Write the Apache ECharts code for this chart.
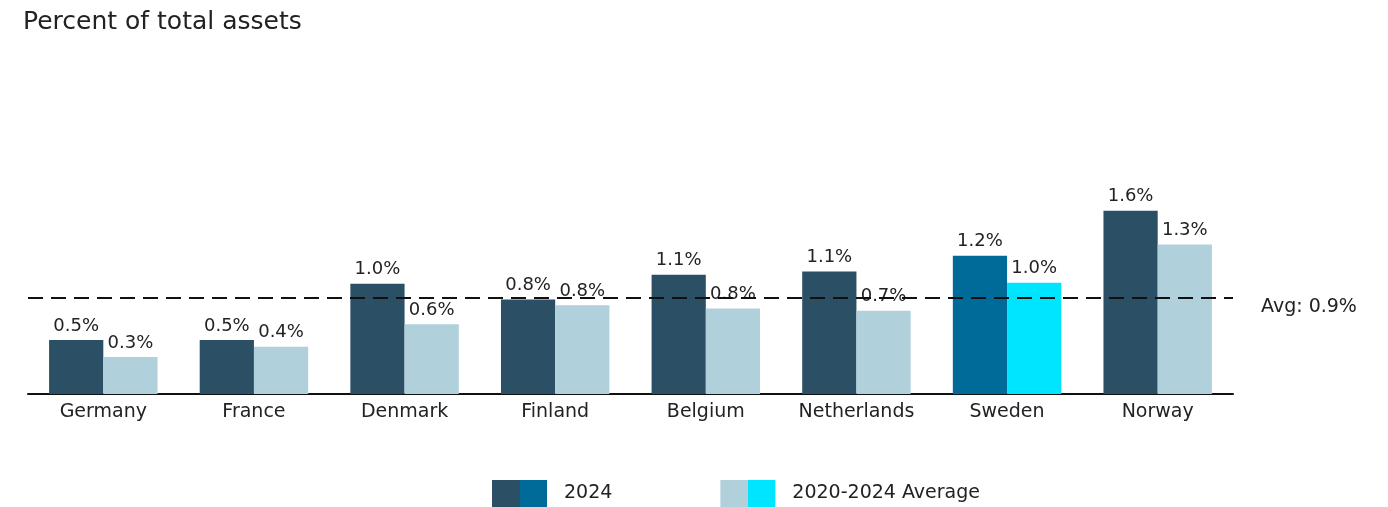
<!DOCTYPE html>
<html>
<head>
<meta charset="utf-8">
<script src="https://cdn.jsdelivr.net/npm/echarts@6/dist/echarts.min.js"></script>
<style>html,body{margin:0;padding:0;background:#fff;}#c{width:1388px;height:507px;}</style>
</head>
<body>
<div id="c"></div>
<script>
var categories = ['Germany','France','Denmark','Finland','Belgium','Netherlands','Sweden','Norway'];
var values2024 = [0.48, 0.48, 0.98, 0.84, 1.06, 1.09, 1.23, 1.63];
var valuesAvg = [0.33, 0.42, 0.62, 0.79, 0.76, 0.74, 0.99, 1.33];
var overallAvg = 0.86;
var seriesNames = ['2024', '2020-2024 Average'];
var highlightCategory = 'Sweden';

var FONT = '"DejaVu Sans", sans-serif';
var C2024 = '#2B4F65', C2024H = '#006B99';
var CAVG = '#B0D0DB', CAVGH = '#00E5FF';

function split(c1, c2) {
  return new echarts.graphic.LinearGradient(0, 0, 1, 0, [
    {offset: 0, color: c1}, {offset: 0.5, color: c1},
    {offset: 0.5, color: c2}, {offset: 1, color: c2}
  ]);
}
function fmt(p) { return (Math.round(p.value * 10) / 10).toFixed(1) + '%'; }

var chart = echarts.init(document.getElementById('c'));
chart.setOption({
  animation: false,
  textStyle: {fontFamily: FONT},
  title: {
    text: 'Percent of total assets',
    left: 18, top: 5,
    textStyle: {fontFamily: FONT, fontSize: 25, fontWeight: 'normal', color: '#222'}
  },
  legend: {
    top: 475, left: 487,
    itemWidth: 55, itemHeight: 27, itemGap: 108,
    textStyle: {fontFamily: FONT, fontSize: 19, color: '#222', padding: [0, 0, 0, 12]},
    data: [
      {name: seriesNames[0], icon: 'rect', itemStyle: {color: split(C2024, C2024H)}},
      {name: seriesNames[1], icon: 'rect', itemStyle: {color: split(CAVG, CAVGH)}}
    ]
  },
  grid: {left: 28, right: 155, top: 169, bottom: 113},
  xAxis: {
    type: 'category', data: categories,
    axisLine: {lineStyle: {color: '#111', width: 2}},
    axisTick: {show: false},
    axisLabel: {interval: 0, fontFamily: FONT, fontSize: 19, color: '#222', margin: 9}
  },
  yAxis: {type: 'value', min: 0, max: 2, show: false, splitLine: {show: false}},
  series: [
    {
      name: seriesNames[0], type: 'bar', barGap: '0%', barCategoryGap: '28%',
      data: values2024,
      itemStyle: {color: function (p) { return categories[p.dataIndex] === highlightCategory ? C2024H : C2024; }},
      label: {show: true, position: 'top', distance: 5, formatter: fmt, fontFamily: FONT, fontSize: 18, color: '#222'},
      markLine: {
        silent: true, symbol: 'none',
        lineStyle: {color: '#111', width: 2, type: [15, 8]},
        label: {show: true, position: 'end', distance: 28, verticalAlign: 'top',
          formatter: function (p) { return 'Avg: ' + p.value.toFixed(1) + '%'; },
          fontFamily: FONT, fontSize: 19, color: '#222'},
        data: [{yAxis: overallAvg}]
      },
      z: 2
    },
    {
      name: seriesNames[1], type: 'bar',
      data: valuesAvg,
      itemStyle: {color: function (p) { return categories[p.dataIndex] === highlightCategory ? CAVGH : CAVG; }},
      label: {show: true, position: 'top', distance: 5, formatter: fmt, fontFamily: FONT, fontSize: 18, color: '#222'},
      z: 2
    }
  ]
});
</script>
</body>
</html>
